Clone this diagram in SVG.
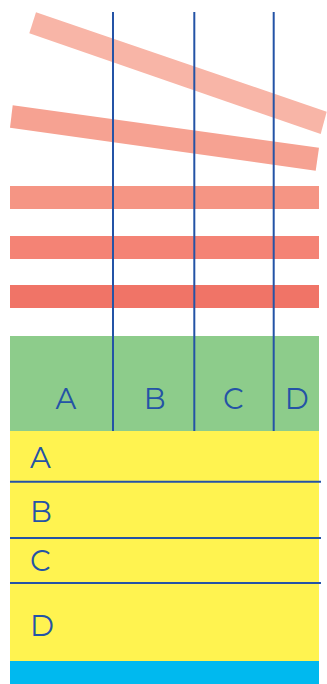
<svg xmlns="http://www.w3.org/2000/svg" width="327" height="684" viewBox="0 0 327 684">
<style>
.lbl{font-family:"Montserrat","Open Sans","Liberation Sans",sans-serif;font-size:29px;fill:#2453a6}
.vl{stroke:#2453a6;stroke-width:2;fill:none}
.hl{stroke:#2453a6;stroke-width:2;fill:none}
</style>
<rect x="0" y="0" width="327" height="684" fill="#ffffff"/>
<g id="bands">
<polygon points="36,12.3 326.7,111.7 320.7,134 29.3,33.3" fill="#f8b5a7"/>
<polygon points="12.7,105.3 319,147.7 315.7,170.7 10,127.7" fill="#f6a292"/>
<rect x="10" y="186" width="309" height="23" fill="#f59584"/>
<rect x="10" y="236" width="309" height="23" fill="#f48375"/>
<rect x="10" y="285" width="309" height="23" fill="#f07467"/>
</g>
<g id="green-header">
<rect x="10" y="336" width="309" height="95" fill="#8dcc8b"/>
<text class="lbl" x="66" y="409" text-anchor="middle">A</text>
<text class="lbl" x="154.7" y="409" text-anchor="middle">B</text>
<text class="lbl" x="233.3" y="409" text-anchor="middle">C</text>
<text class="lbl" x="296.7" y="409" text-anchor="middle">D</text>
</g>
<g id="yellow-body">
<rect x="10" y="431" width="309" height="230" fill="#fff350"/>
<text class="lbl" x="30" y="468.3">A</text>
<text class="lbl" x="30" y="521.7">B</text>
<text class="lbl" x="30" y="571">C</text>
<text class="lbl" x="30" y="635.7">D</text>
</g>
<g id="blue-footer">
<rect x="10" y="661" width="309" height="23" fill="#00b9ef"/>
</g>
<g id="connectors">
<line class="vl" x1="113" y1="12" x2="113" y2="431"/>
<line class="vl" x1="194.3" y1="12" x2="194.3" y2="431"/>
<line class="vl" x1="273.7" y1="12" x2="273.7" y2="431"/>
<line class="hl" x1="10" y1="481.7" x2="321" y2="481.7"/>
<line class="hl" x1="10" y1="538" x2="321" y2="538"/>
<line class="hl" x1="10" y1="583" x2="321" y2="583"/>
</g>
</svg>
